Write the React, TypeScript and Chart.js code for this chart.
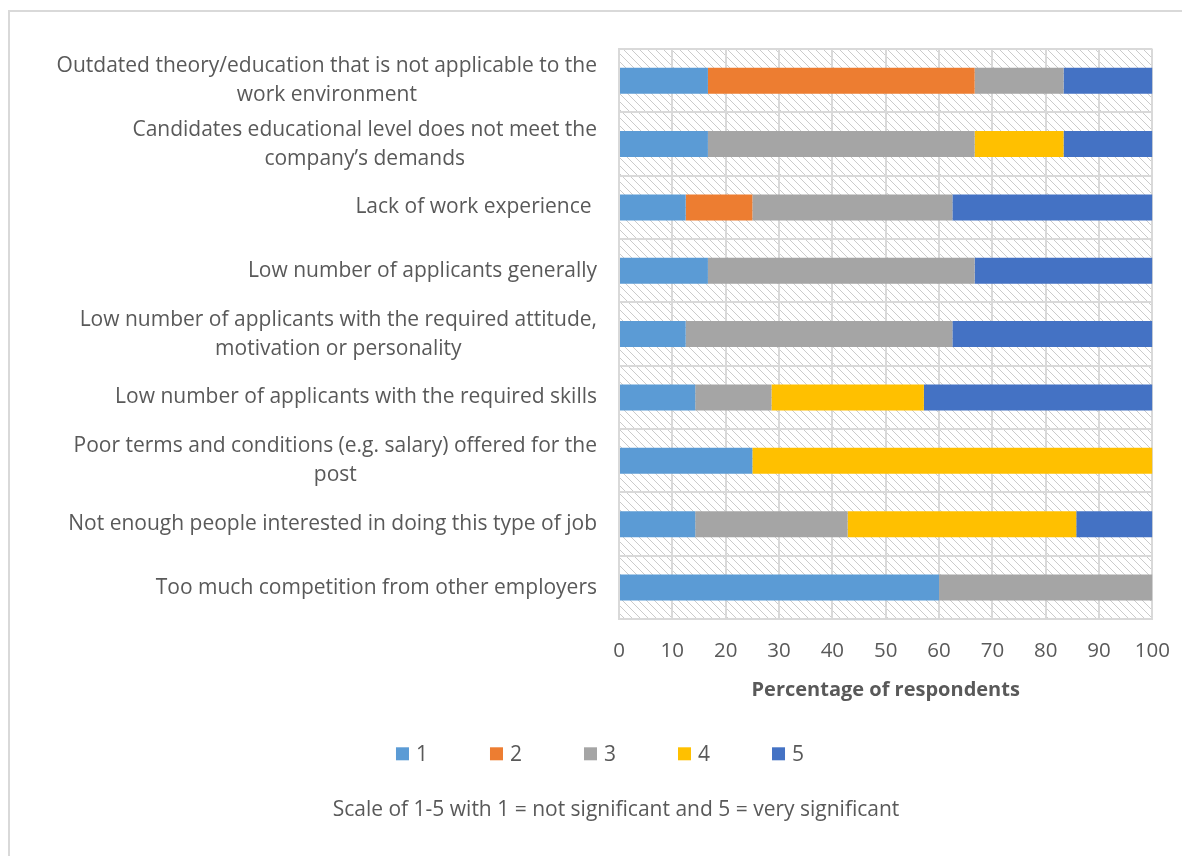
import React, { useEffect, useRef } from "react";
import { Chart, registerables } from "chart.js";

Chart.register(...registerables);

// ---------- data ----------
const categories: string[][] = [
  ["Outdated theory/education that is not applicable to the", "work environment"],
  ["Candidates educational level does not meet the", "company’s demands"],
  ["Lack of work experience "],
  ["Low number of applicants generally"],
  ["Low number of applicants with the required attitude,", "motivation or personality"],
  ["Low number of applicants with the required skills"],
  ["Poor terms and conditions (e.g. salary) offered for the", "post"],
  ["Not enough people interested in doing this type of job"],
  ["Too much competition from other employers"],
];

const seriesLabels = ["1", "2", "3", "4", "5"];
const seriesColors = ["#5B9BD5", "#ED7D31", "#A5A5A5", "#FFC000", "#4472C4"];

const score1 = [16.67, 16.67, 12.5, 16.67, 12.5, 14.29, 25, 14.29, 60];
const score2 = [50, 0, 12.5, 0, 0, 0, 0, 0, 0];
const score3 = [16.67, 50, 37.5, 50, 50, 14.29, 0, 28.57, 40];
const score4 = [0, 16.67, 0, 0, 0, 28.57, 75, 42.86, 0];
const score5 = [16.66, 16.66, 37.5, 33.33, 37.5, 42.85, 0, 14.28, 0];

const xTickValues = [0, 10, 20, 30, 40, 50, 60, 70, 80, 90, 100];
const xAxisTitle = "Percentage of respondents";
const subtitleText = "Scale of 1-5 with 1 = not significant and 5 = very significant";

// ---------- style ----------
const FONT = '"Open Sans", "Noto Sans", sans-serif';
const TEXT = "#595959";
const GRID = "#d9d9d9";

export default function App() {
  const canvasRef = useRef<HTMLCanvasElement | null>(null);

  useEffect(() => {
    let chart: Chart | null = null;
    let cancelled = false;

    const build = () => {
      if (cancelled || !canvasRef.current) return;

      // hatched plot-area background
      const pc = document.createElement("canvas");
      pc.width = 8;
      pc.height = 8;
      const pctx = pc.getContext("2d")!;
      pctx.fillStyle = "#ffffff";
      pctx.fillRect(0, 0, 8, 8);
      pctx.strokeStyle = "#cbcbcb";
      pctx.lineWidth = 1;
      pctx.beginPath();
      pctx.moveTo(-2, -2);
      pctx.lineTo(10, 10);
      pctx.moveTo(-2, 6);
      pctx.lineTo(2, 10);
      pctx.moveTo(6, -2);
      pctx.lineTo(10, 2);
      pctx.stroke();
      const ctx0 = canvasRef.current.getContext("2d")!;
      const pattern = ctx0.createPattern(pc, "repeat");

      const hatchPlugin = {
        id: "hatchBackground",
        beforeDraw(chart: any) {
          const { ctx, chartArea } = chart;
          ctx.save();
          ctx.fillStyle = pattern || "#ffffff";
          ctx.fillRect(chartArea.left, chartArea.top, chartArea.right - chartArea.left, chartArea.bottom - chartArea.top);
          ctx.restore();
        },
      };

      const categoryLabelPlugin = {
        id: "categoryLabels",
        afterDraw(chart: any) {
          const { ctx, chartArea } = chart;
          const yScale = chart.scales.y;
          ctx.save();
          ctx.font = `21px ${FONT}`;
          ctx.fillStyle = TEXT;
          ctx.textAlign = "center";
          ctx.textBaseline = "middle";
          (chart.data.labels as string[][]).forEach((lines, i) => {
            const cy = yScale.getPixelForValue(i);
            const widest = Math.max(...lines.map((l) => ctx.measureText(l).width));
            const cx = chartArea.left - 22 - widest / 2;
            lines.forEach((line, j) => {
              ctx.fillText(line, cx, cy + (j - (lines.length - 1) / 2) * 29);
            });
          });
          ctx.restore();
        },
      };

      const legendPlugin = {
        id: "bottomLegend",
        afterDraw(chart: any) {
          const { ctx } = chart;
          const cy = chart.scales.x.bottom + 58;
          const box = 13;
          const gap = 7;
          const spacing = 62;
          ctx.save();
          ctx.font = `21px ${FONT}`;
          const items = chart.data.datasets.map((ds: any) => {
            const label = String(ds.label);
            return { label, color: ds.backgroundColor, w: box + gap + ctx.measureText(label).width };
          });
          const total = items.reduce((s: number, it: any) => s + it.w, 0) + spacing * (items.length - 1);
          let x = chart.width / 2 - total / 2;
          ctx.textAlign = "left";
          ctx.textBaseline = "middle";
          items.forEach((it: any) => {
            ctx.fillStyle = it.color;
            ctx.fillRect(x, cy - box / 2, box, box);
            ctx.fillStyle = TEXT;
            ctx.fillText(it.label, x + box + gap, cy + 1);
            x += it.w + spacing;
          });
          ctx.restore();
        },
      };

      const seriesValues = [score1, score2, score3, score4, score5];

      chart = new Chart(canvasRef.current, {
        type: "bar",
        data: {
          labels: categories,
          datasets: seriesValues.map((vals, k) => ({
            label: seriesLabels[k],
            data: vals,
            backgroundColor: seriesColors[k],
            borderWidth: 0,
            barPercentage: 0.41,
            categoryPercentage: 1,
          })),
        },
        options: {
          indexAxis: "y",
          responsive: false,
          animation: false,
          layout: { padding: { left: 67, top: 37, right: 35, bottom: 33 } },
          scales: {
            x: {
              type: "linear",
              stacked: true,
              min: 0,
              max: 100,
              afterBuildTicks: (s: any) => {
                s.ticks = xTickValues.map((v) => ({ value: v }));
              },
              grid: { color: GRID, lineWidth: 2, drawTicks: false },
              border: { display: true, color: GRID, width: 2 },
              ticks: {
                color: TEXT,
                font: { family: FONT, size: 20.5, lineHeight: 1.2 },
                padding: 20,
                maxRotation: 0,
                autoSkip: false,
              },
              title: {
                display: true,
                text: xAxisTitle,
                color: TEXT,
                font: { family: FONT, size: 20, weight: "bold", lineHeight: 0.6 },
                padding: { top: 0, bottom: 0 },
              },
            },
            y: {
              type: "category",
              stacked: true,
              offset: true,
              afterFit: (s: any) => {
                s.width = 542;
              },
              grid: { offset: true, color: GRID, lineWidth: 2, drawTicks: false },
              border: { display: true, color: GRID, width: 2 },
              ticks: { display: false },
            },
          },
          plugins: {
            legend: { display: false },
            tooltip: { enabled: false },
            title: { display: false },
            subtitle: {
              display: true,
              position: "bottom",
              text: subtitleText,
              color: TEXT,
              font: { family: FONT, size: 21, weight: "normal", lineHeight: 1.2 },
              padding: { top: 102, bottom: 0 },
            },
          },
        } as any,
        plugins: [hatchPlugin, categoryLabelPlugin, legendPlugin],
      });
    };

    const fontsReady = (document as any).fonts
      ? Promise.all([
          (document as any).fonts.load(`21px "Open Sans"`),
          (document as any).fonts.load(`bold 20px "Open Sans"`),
        ]).catch(() => undefined)
      : Promise.resolve();
    fontsReady.then(build);

    return () => {
      cancelled = true;
      if (chart) chart.destroy();
    };
  }, []);

  return (
    <div style={{ width: 1182, height: 848, paddingTop: 2, overflow: "hidden", boxSizing: "border-box" }}>
      <div style={{ width: 1220, height: 880, border: "2px solid #d9d9d9", boxSizing: "border-box", background: "#fff" }}>
        <canvas ref={canvasRef} width={1180} height={844} style={{ display: "block" }} />
      </div>
    </div>
  );
}
